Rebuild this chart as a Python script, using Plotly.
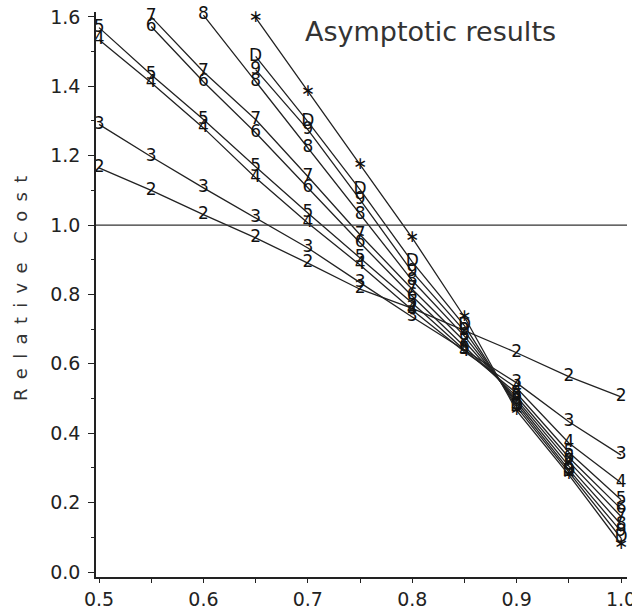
import plotly.graph_objects as go

x_values = [0.5, 0.55, 0.6, 0.65, 0.7, 0.75, 0.8, 0.85, 0.9, 0.95, 1.0]

s2 = [1.165, 1.10, 1.03, 0.963, 0.89, 0.815, 0.76, 0.695, 0.632, 0.563, 0.505]
s3 = [1.29, 1.197, 1.107, 1.02, 0.934, 0.834, 0.735, 0.64, 0.545, 0.433, 0.337]
s4 = [1.534, 1.41, 1.28, 1.136, 1.006, 0.885, 0.755, 0.635, 0.53, 0.372, 0.257]
s5 = [1.569, 1.433, 1.304, 1.168, 1.035, 0.906, 0.775, 0.64, 0.515, 0.345, 0.208]
s6 = [None, 1.572, 1.413, 1.266, 1.107, 0.949, 0.795, 0.65, 0.505, 0.33, 0.182]
s7 = [None, 1.60, 1.442, 1.304, 1.14, 0.972, 0.815, 0.665, 0.497, 0.318, 0.16]
s8 = [None, None, 1.605, 1.413, 1.223, 1.03, 0.84, 0.68, 0.49, 0.305, 0.137]
s9 = [None, None, None, 1.448, 1.275, 1.073, 0.865, 0.695, 0.483, 0.295, 0.117]
sD = [None, None, None, 1.486, 1.298, 1.102, 0.894, 0.71, 0.475, 0.288, 0.098]
sStar = [None, None, None, 1.598, 1.385, 1.174, 0.963, 0.735, 0.465, 0.28, 0.08]

series_labels = ["2", "3", "4", "5", "6", "7", "8", "9", "D", "\u2217"]
series_values = [s2, s3, s4, s5, s6, s7, s8, s9, sD, sStar]

y_ticks = [0.0, 0.2, 0.4, 0.6, 0.8, 1.0, 1.2, 1.4, 1.6]
x_ticks = [0.5, 0.6, 0.7, 0.8, 0.9, 1.0]
title_text = "Asymptotic results"
y_title = " \u2009".join(list("Relative")) + " \u2009 \u2009" + " \u2009".join(list("Cost"))

fig = go.Figure()
for lab, vals in zip(series_labels, series_values):
    xs = [x for x, v in zip(x_values, vals) if v is not None]
    ys = [v for v in vals if v is not None]
    fig.add_trace(go.Scatter(
        x=xs, y=ys, mode="lines+text",
        text=[lab] * len(xs), textposition="middle center",
        textfont=dict(family="DejaVu Sans", size=17, color="#111"),
        line=dict(color="#222", width=1.3),
        cliponaxis=False, showlegend=False, hoverinfo="skip",
    ))

fig.add_shape(type="line", xref="paper", yref="y", x0=0, x1=1, y0=1.0, y1=1.0,
              line=dict(color="#333", width=1.3))

fig.add_annotation(text=title_text, xref="paper", yref="paper",
                   x=0.39, y=0.966, xanchor="left", yanchor="middle",
                   showarrow=False,
                   font=dict(family="DejaVu Sans", size=27, color="#333"))
fig.add_annotation(text=y_title, xref="paper", yref="paper",
                   x=-0.141, y=0.51, xanchor="center", yanchor="middle",
                   textangle=-90, showarrow=False,
                   font=dict(family="DejaVu Sans", size=18, color="#333"))

fig.update_layout(
    width=632, height=610,
    margin=dict(l=96, r=5, t=12, b=33, autoexpand=False),
    paper_bgcolor="white", plot_bgcolor="white",
    font=dict(family="DejaVu Sans", color="#222"),
)
fig.update_xaxes(
    range=[0.4971, 1.0057], tickvals=x_ticks, ticktext=[f"{v:.1f}" for v in x_ticks],
    automargin=False, ticklabeloverflow="allow",
    showgrid=False, zeroline=False, showline=True, linecolor="#222", linewidth=1.5,
    ticks="outside", ticklen=4, tickwidth=1.2, tickcolor="#222",
    minor=dict(dtick=0.05, tick0=0.5, ticks="outside", ticklen=4, tickwidth=1.2, tickcolor="#222"),
    tickfont=dict(family="DejaVu Sans", size=19, color="#222"),
)
fig.update_yaxes(
    range=[-0.0144, 1.614], tickvals=y_ticks, ticktext=[f"{v:.1f}" for v in y_ticks],
    automargin=False, ticklabelstandoff=4, ticklabeloverflow="allow",
    showgrid=False, zeroline=False, showline=True, linecolor="#222", linewidth=1.5,
    ticks="outside", ticklen=6, tickwidth=1.2, tickcolor="#222",
    minor=dict(dtick=0.1, tick0=0, ticks="outside", ticklen=3, tickwidth=1.2, tickcolor="#222"),
    tickfont=dict(family="DejaVu Sans", size=19, color="#222"),
)

fig.write_html("out.html", config={"displayModeBar": False},
               post_script="document.body.style.margin='0';")
